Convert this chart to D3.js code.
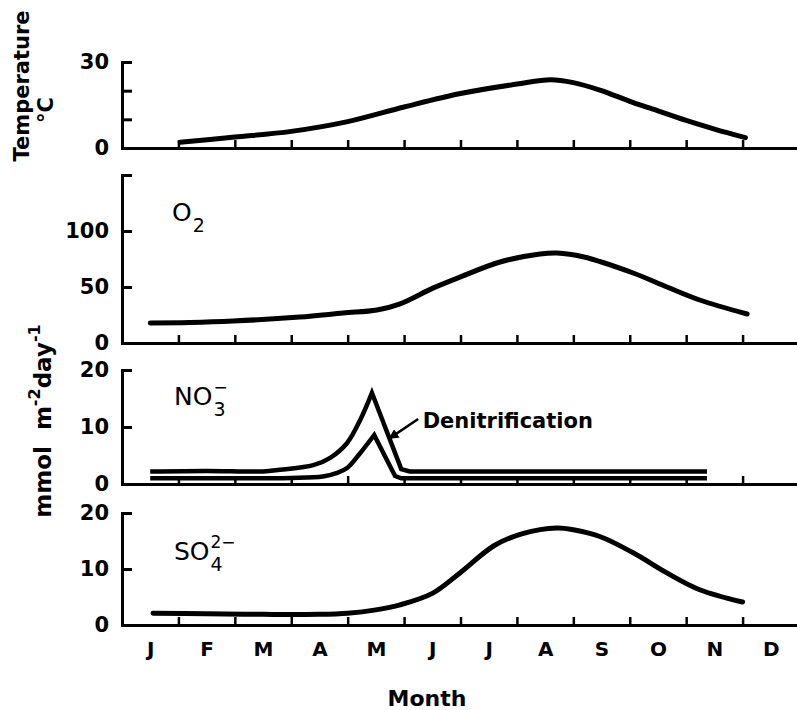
<!DOCTYPE html>
<html><head><meta charset="utf-8">
<script src="https://cdn.jsdelivr.net/npm/d3@7"></script>
<style>body{margin:0;background:#fff}svg{display:block}</style>
</head><body>
<svg id="chart" width="797" height="710"></svg>
<script>
// ---- data (x = month index, 0 = start of January) ----
const months = ["J","F","M","A","M","J","J","A","S","O","N","D"];
const monthBoundaries = [1,2,3,4,5,6,7,8,9,10,11,12];

const temperatureTicks = [0,10,20,30];
const temperatureTickLabels = ["0","","","30"];
const temperature = [[1.03,2.0],[2,3.8],[3,5.8],[4,9.2],[5,14.3],[6,19],[7,22.3],[7.6,23.8],[8,22.8],[8.47,20.2],[9,16.3],[9.36,13.9],[10,9.6],[10.5,6.6],[11.05,3.6]];

const oxygenTicks = [0,50,100,150];
const oxygenTickLabels = ["0","50","100",""];
const oxygen = [[0.5,17.9],[1.2,18.3],[1.97,19.6],[3.15,23.2],[3.92,26.8],[4.52,29.5],[4.93,35],[5.51,49],[6.0,59],[6.7,72.3],[7.41,79.5],[7.71,80.4],[8.17,77],[9.06,62.5],[9.66,50],[10.24,38.4],[11.08,25.9]];

const nitrateTicks = [0,10,20];
const nitrateTickLabels = ["0","10","20"];
// rise (smooth) up to the peak, then straight descent
const nitrateUpperRise = [[0.5,2.2],[1.5,2.3],[2.5,2.2],[2.8,2.5],[3.39,3.3],[3.69,4.6],[3.99,7.2],[4.22,11.2],[4.43,16]];
const nitrateUpperFall = [[4.43,16],[4.95,2.6],[5.1,2.2],[10.37,2.2]];
const nitrateLowerRise = [[0.5,1.0],[2.5,1.0],[3.0,1.05],[3.56,1.3],[3.8,1.9],[3.99,2.8],[4.22,5.4],[4.47,8.6]];
const nitrateLowerFall = [[4.47,8.6],[4.84,1.4],[4.95,1.0],[10.37,1.0]];
const denitrificationArrow = {from:[5.25,11.4], to:[4.74,8]};

const sulfateTicks = [0,10,20];
const sulfateTickLabels = ["0","10","20"];
const sulfate = [[0.55,2.1],[1.5,2.0],[2.5,1.9],[3.5,1.9],[4.0,2.1],[4.5,2.7],[4.93,3.6],[5.51,5.7],[5.99,9.3],[6.6,14.2],[7.1,16.3],[7.71,17.3],[8.0,17.0],[8.47,15.8],[9.06,12.9],[9.66,9.3],[10.24,6.3],[11.0,4.1]];

// ---- layout ----
const svg = d3.select("#chart");
const FONT = "DejaVu Sans, Liberation Sans, Arial, sans-serif";
const x = d3.scaleLinear().domain([0,12]).range([122,799]);

const panels = [
  {ticks:temperatureTicks, labels:temperatureTickLabels, max:30, range:[148,62], series:[{rise:temperature,w:5,cap:"round"}]},
  {ticks:oxygenTicks, labels:oxygenTickLabels, max:150, range:[343,175], series:[{rise:oxygen,w:5,cap:"round"}]},
  {ticks:nitrateTicks, labels:nitrateTickLabels, max:20, range:[484,370], series:[{rise:nitrateUpperRise,fall:nitrateUpperFall,w:4.5,cap:"butt"},{rise:nitrateLowerRise,fall:nitrateLowerFall,w:4.5,cap:"butt"}]},
  {ticks:sulfateTicks, labels:sulfateTickLabels, max:20, range:[625,513], series:[{rise:sulfate,w:5,cap:"round"}]}
];

panels.forEach((p,pi) => {
  const y = d3.scaleLinear().domain([0,p.max]).range(p.range);
  p.y = y;
  const g = svg.append("g");
  // x axis
  const xa = g.append("g").attr("transform",`translate(0,${y(0)})`)
    .call(d3.axisBottom(x).tickValues(monthBoundaries).tickSize(-8).tickSizeOuter(0).tickFormat(""));
  xa.select(".domain").attr("stroke","#000").attr("stroke-width",3);
  xa.selectAll(".tick line").attr("stroke","#000").attr("stroke-width",2.5);
  // y axis
  const ya = g.append("g").attr("transform",`translate(${x(0)},0)`)
    .call(d3.axisLeft(y).tickValues(p.ticks).tickSize(-10).tickSizeOuter(0).tickPadding(13)
      .tickFormat((d,i)=>p.labels[i]));
  ya.select(".domain").attr("stroke","#000").attr("stroke-width",3).attr("stroke-linecap","square");
  ya.selectAll(".tick line").attr("stroke","#000").attr("stroke-width",3);
  ya.selectAll(".tick text").attr("font-family",FONT).attr("font-size",21).attr("font-weight","bold").attr("fill","#000");
  // series
  const smooth = d3.line().x(d=>x(d[0])).y(d=>y(d[1])).curve(d3.curveCatmullRom.alpha(0.5));
  const straight = d3.line().x(d=>x(d[0])).y(d=>y(d[1]));
  p.series.forEach(s => {
    let dstr = smooth(s.rise);
    if (s.fall) dstr += "L" + straight(s.fall).slice(1);
    g.append("path").attr("d",dstr).attr("fill","none").attr("stroke","#000")
      .attr("stroke-width",s.w).attr("stroke-linecap",s.cap).attr("stroke-linejoin","miter").attr("stroke-miterlimit",10);
  });
});

// month labels on bottom panel
const bottom = panels[3];
const ma = svg.append("g").attr("transform",`translate(0,${bottom.y(0)})`)
  .call(d3.axisBottom(x).tickValues(months.map((_,i)=>i+0.5)).tickSize(0).tickPadding(17).tickFormat((d,i)=>months[i]));
ma.select(".domain").remove();
ma.selectAll(".tick text").attr("font-family",FONT).attr("font-size",20).attr("font-weight","bold").attr("fill","#000");

// axis titles
svg.append("text").attr("transform","translate(29,86) rotate(-90)").attr("text-anchor","middle")
  .attr("font-family",FONT).attr("font-size",21).attr("font-weight","bold").text("Temperature");
svg.append("text").attr("transform","translate(53,110) rotate(-90)").attr("text-anchor","middle")
  .attr("font-family",FONT).attr("font-size",21).attr("font-weight","bold").text("°C");
const unit = svg.append("text").attr("transform","translate(51,421) rotate(-90)").attr("text-anchor","middle")
  .attr("font-family",FONT).attr("font-size",23).attr("font-weight","bold");
unit.append("tspan").text("mmol\u00A0\u00A0m");
unit.append("tspan").attr("font-size",16).attr("dy",-11).text("-2");
unit.append("tspan").attr("dy",11).text("day");
unit.append("tspan").attr("font-size",16).attr("dy",-11).text("-1");

svg.append("text").attr("x",427).attr("y",706).attr("text-anchor","middle")
  .attr("font-family",FONT).attr("font-size",22).attr("font-weight","bold").text("Month");

// species labels
function species(xp, yb, main, sub, sup){
  const t = svg.append("g").attr("font-family",FONT).attr("fill","#000");
  const m = t.append("text").attr("x",xp).attr("y",yb).attr("font-size",25).text(main);
  const w = m.node().getComputedTextLength();
  if(sub) t.append("text").attr("x",xp+w+1).attr("y",yb+11).attr("font-size",19).text(sub);
  if(sup) t.append("text").attr("x",xp+w+1).attr("y",yb-12).attr("font-size",17).text(sup);
}
species(172,221,"O","2",null);
species(174,405,"NO","3","−");
species(174,560,"SO","4","2−");

// denitrification annotation
const ny = panels[2].y;
svg.append("defs").append("marker").attr("id","ah").attr("viewBox","0 0 10 10").attr("refX",9).attr("refY",5)
  .attr("markerWidth",4).attr("markerHeight",4).attr("orient","auto")
  .append("path").attr("d","M0,0L10,5L0,10z").attr("fill","#000");
svg.append("line")
  .attr("x1",x(denitrificationArrow.from[0])).attr("y1",ny(denitrificationArrow.from[1]))
  .attr("x2",x(denitrificationArrow.to[0])).attr("y2",ny(denitrificationArrow.to[1]))
  .attr("stroke","#000").attr("stroke-width",2.5).attr("marker-end","url(#ah)");
svg.append("text").attr("x",x(5.33)).attr("y",ny(9.8)).attr("font-family",FONT).attr("font-size",21)
  .attr("font-weight","bold").text("Denitrification");
</script>
</body></html>
